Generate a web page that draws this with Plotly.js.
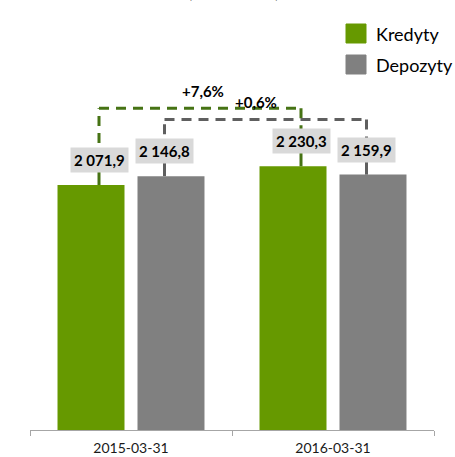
<!DOCTYPE html>
<html>
<head>
<meta charset="utf-8">
<script src="https://cdn.plot.ly/plotly-3.0.1.min.js"></script>
<style>html,body{margin:0;padding:0;background:#fff;}#chart{width:455px;height:457px;}</style>
</head>
<body>
<div id="chart"></div>
<script>
// ---- data ----
const categories = ["2015-03-31", "2016-03-31"];
const kredyty = [2071.9, 2230.3];
const depozyty = [2146.8, 2159.9];
const seriesNames = ["Kredyty", "Depozyty"];
const titleText = "(w mln zł)";

// ---- styling ----
const GREEN = "#669900", GRAY = "#808080";
const GREEN_LINE = "#467314", GRAY_LINE = "#5f5f5f";
const FONT = "Lato, 'Open Sans', sans-serif";
const W = 455, H = 457, M = {l: 30, r: 21, t: 50, b: 27};
const plotH = H - M.t - M.b;       // 380 px
const yMax = 3213.5;
const pxToY = px => px * yMax / plotH;
const plotW = W - M.l - M.r;       // 404 px
const catW = plotW / categories.length;
const pxToX = px => px / catW;

function fmt(v) {
  const parts = v.toFixed(1).split(".");
  const intp = parts[0].replace(/\B(?=(\d{3})+(?!\d))/g, " ");
  return intp + "," + parts[1];
}
function pct(a, b) {
  const p = (b / a - 1) * 100;
  return (p >= 0 ? "+" : "") + p.toFixed(1).replace(".", ",") + "%";
}

const traces = [
  {type: "bar", name: seriesNames[0], x: categories, y: kredyty, marker: {color: GREEN}, hoverinfo: "none"},
  {type: "bar", name: seriesNames[1], x: categories, y: depozyty, marker: {color: GRAY}, hoverinfo: "none"}
];

const labelShift = 25; // px above bar top
const kOff = pxToX(-32), dOff = pxToX(33.5);
const annotations = [];
const shapes = [];

function addLabel(i, v, off, color) {
  annotations.push({
    x: i + off, y: v, xref: "x", yref: "y", yshift: labelShift,
    text: "<b>" + fmt(v) + "</b>", showarrow: false,
    bgcolor: "#d9d9d9", borderpad: 3,
    font: {family: FONT, size: 15, color: "#000"}
  });
  shapes.push({type: "line", xref: "x", yref: "y", x0: i + off, x1: i + off,
    y0: v, y1: v + pxToY(labelShift), line: {color: color, width: 3}});
}
kredyty.forEach((v, i) => addLabel(i, v, kOff, GREEN_LINE));
depozyty.forEach((v, i) => addLabel(i, v, dOff, GRAY_LINE));

function bracket(vals, off, color, yTop) {
  const yA = vals[0] + pxToY(labelShift), yB = vals[1] + pxToY(labelShift);
  const dash = "10px,7px";
  shapes.push({type: "line", xref: "x", yref: "y", x0: off, x1: off, y0: yA, y1: yTop, line: {color: color, width: 3, dash: dash}});
  shapes.push({type: "line", xref: "x", yref: "y", x0: off, x1: 1 + off, y0: yTop, y1: yTop, line: {color: color, width: 3, dash: dash}});
  shapes.push({type: "line", xref: "x", yref: "y", x0: 1 + off, x1: 1 + off, y0: yTop, y1: yB, line: {color: color, width: 3, dash: dash}});
}
const gTop = Math.max(...kredyty) + pxToY(58);
const dTop = Math.max(...depozyty) + pxToY(55);
bracket(kredyty, kOff, GREEN_LINE, gTop);
bracket(depozyty, dOff, GRAY_LINE, dTop);

annotations.push({x: 0.5 + pxToX(-29), y: gTop, xref: "x", yref: "y", yshift: 17,
  text: "<b>" + pct(kredyty[0], kredyty[1]) + "</b>", showarrow: false,
  font: {family: FONT, size: 15, color: "#000"}});
annotations.push({x: 0.5 + pxToX(24), y: gTop, xref: "x", yref: "y", yshift: 6,
  text: "<b>" + pct(depozyty[0], depozyty[1]) + "</b>", showarrow: false,
  font: {family: FONT, size: 15, color: "#000"}});

// legend (custom)
const px2paperX = px => (px - M.l) / plotW;
const px2paperY = py => (H - M.b - py) / plotH;
[[GREEN, 24, seriesNames[0]], [GRAY, 55, seriesNames[1]]].forEach(([c, top, name]) => {
  shapes.push({type: "rect", xref: "paper", yref: "paper",
    x0: px2paperX(346), x1: px2paperX(366), y0: px2paperY(top + 19), y1: px2paperY(top),
    fillcolor: c, line: {color: c, width: 1}});
  annotations.push({xref: "paper", yref: "paper", x: px2paperX(374), y: px2paperY(top + 10),
    xanchor: "left", yanchor: "middle", text: name, showarrow: false,
    font: {family: FONT, size: 18, color: "#000"}});
});

// title (cut off at top like reference)
annotations.push({xref: "paper", yref: "paper", x: px2paperX(233), y: px2paperY(4),
  xanchor: "center", yanchor: "bottom", text: "<b>" + titleText + "</b>", showarrow: false,
  font: {family: FONT, size: 22, color: "#000"}});

const layout = {
  width: W, height: H,
  margin: M,
  paper_bgcolor: "#fff", plot_bgcolor: "#fff",
  showlegend: false,
  barmode: "group",
  bargap: 0.208,
  bargroupgap: 0.1625,
  xaxis: {
    type: "category",
    showline: true, linecolor: "#a6a6a6", linewidth: 1,
    ticks: "outside", tickson: "boundaries", ticklen: 5, tickcolor: "#a6a6a6",
    ticklabelstandoff: 5,
    tickfont: {family: FONT, size: 14, color: "#1a1a1a"},
    showgrid: false, zeroline: false
  },
  yaxis: {range: [0, yMax], visible: false, showgrid: false, zeroline: false},
  shapes: shapes,
  annotations: annotations
};
Plotly.newPlot("chart", traces, layout, {displayModeBar: false, staticPlot: true});
</script>
</body>
</html>
